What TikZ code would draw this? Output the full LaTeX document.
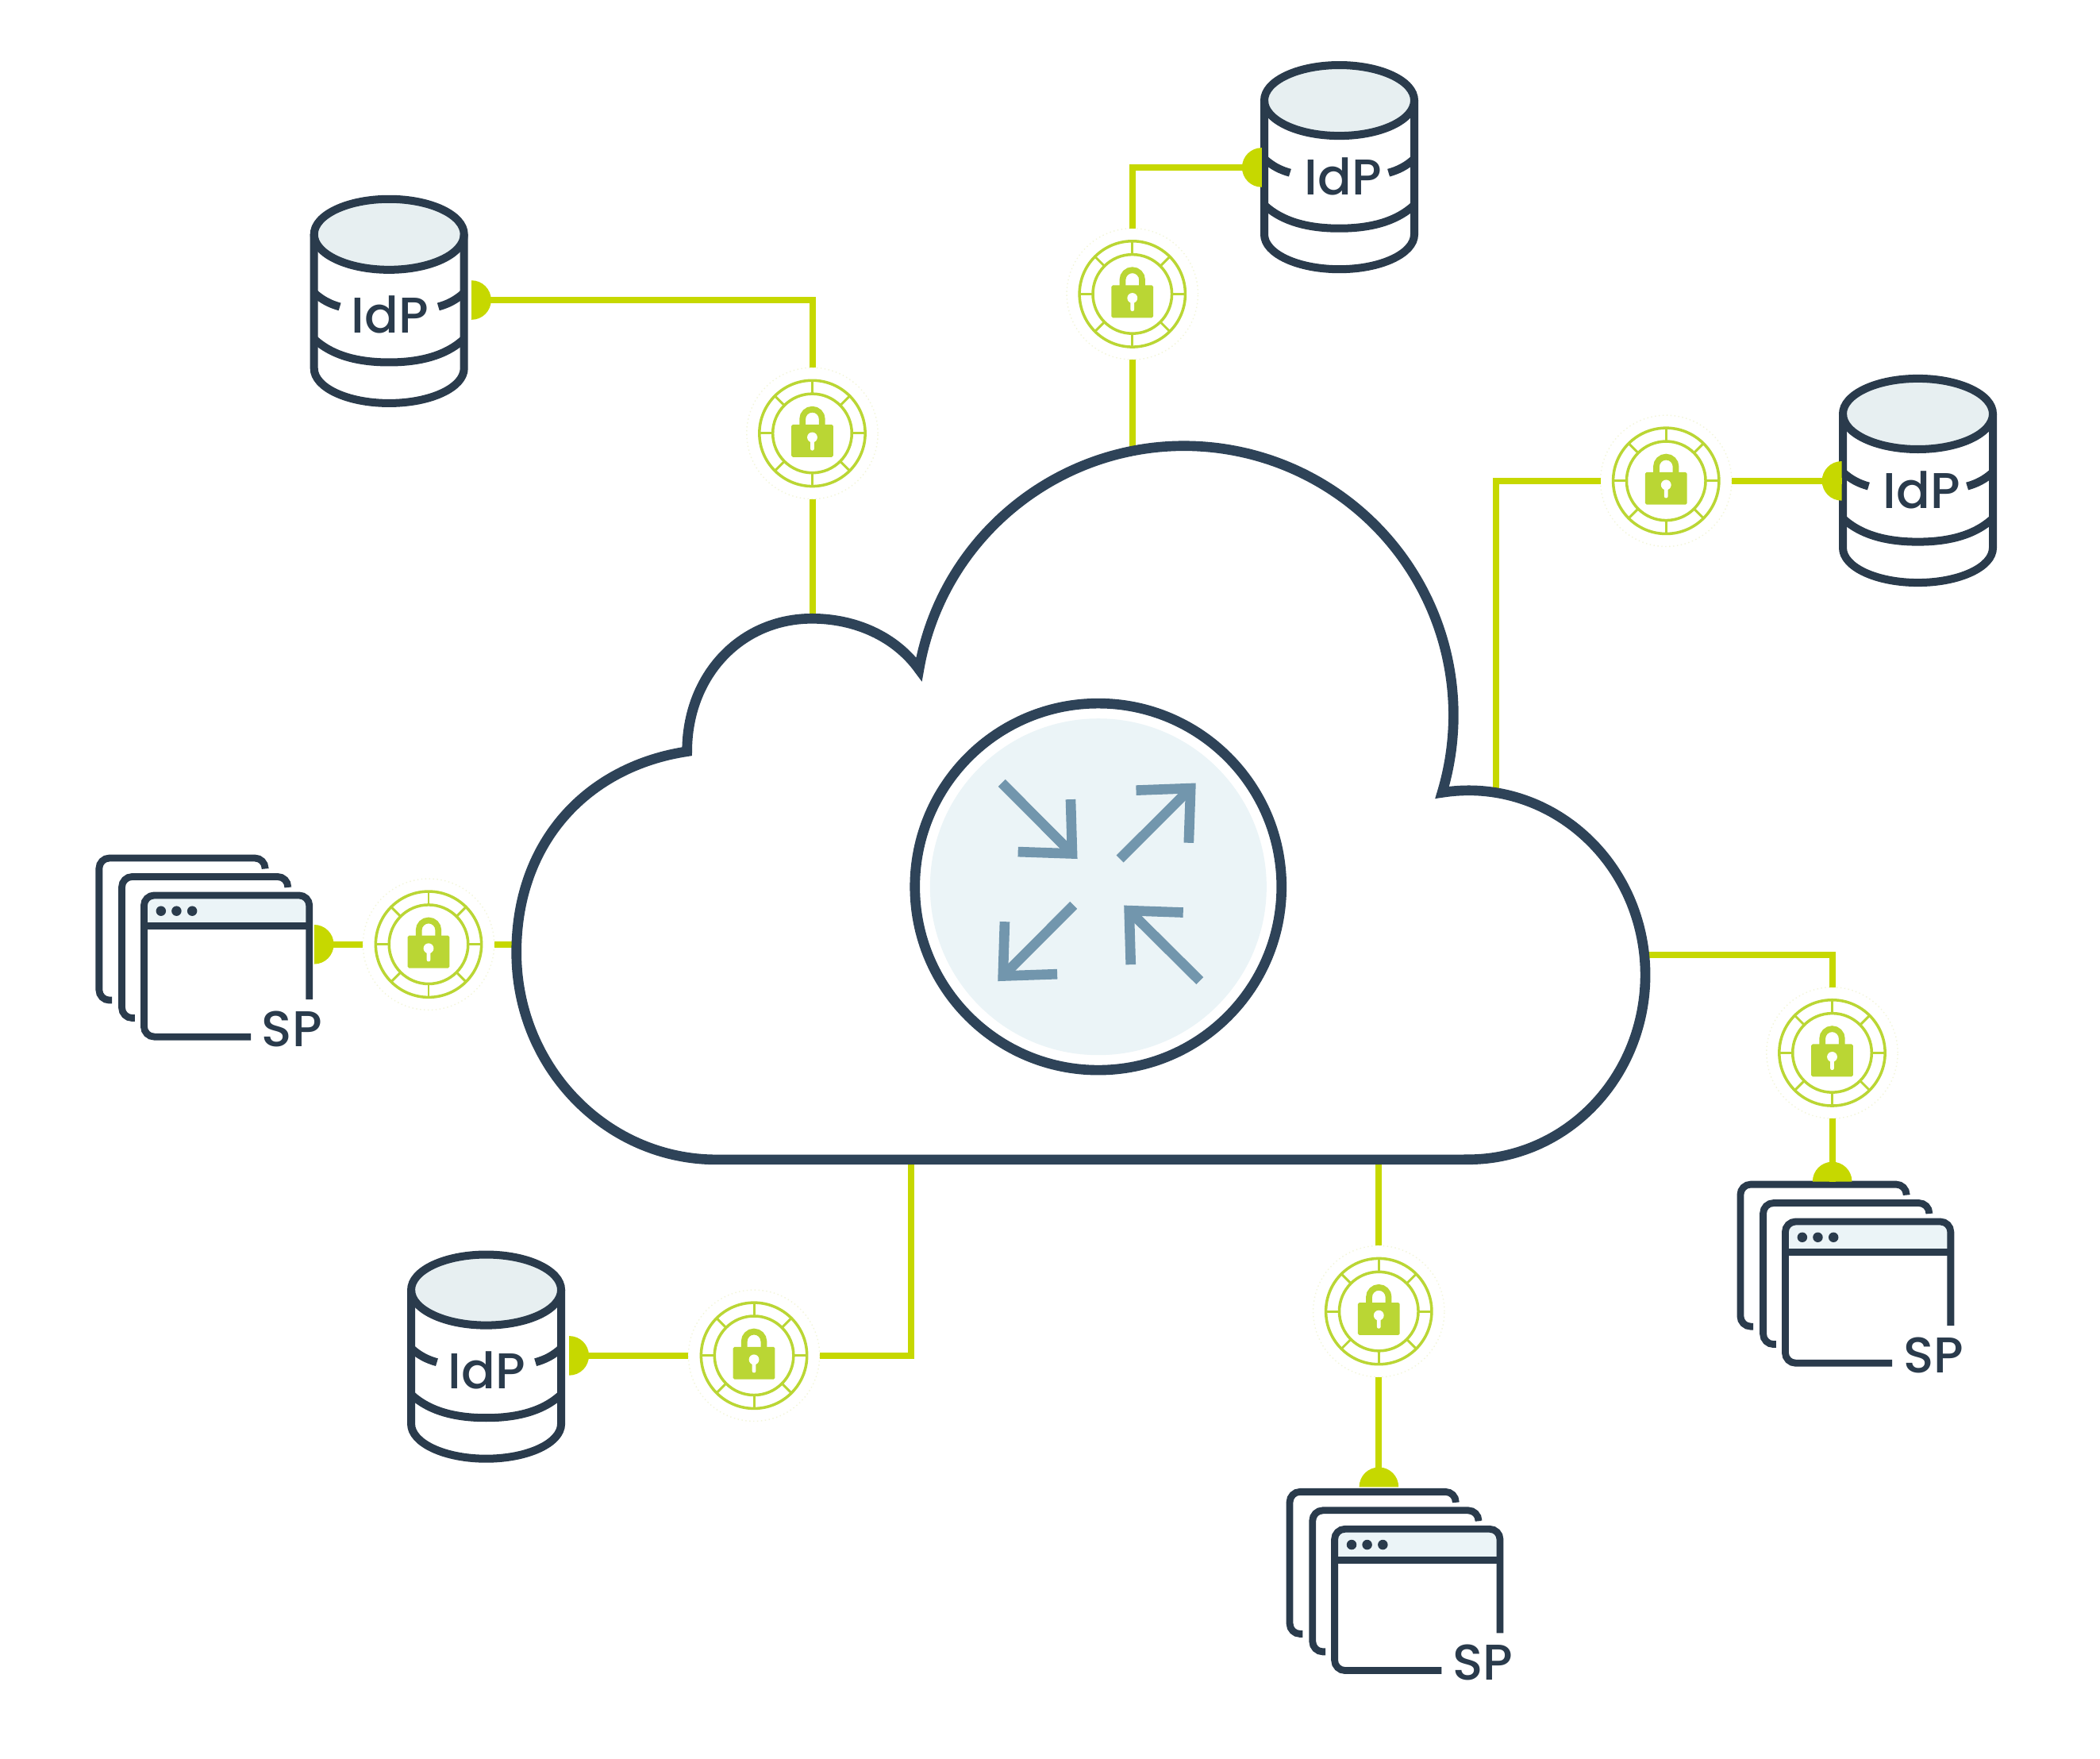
\documentclass[tikz,border=0pt]{standalone}
\usepackage{fontspec}
\setmainfont{Poppins Medium}
\usetikzlibrary{positioning}
\definecolor{navy}{HTML}{2A3B4C}
\definecolor{cloudnavy}{HTML}{2E4358}
\definecolor{linklime}{HTML}{C6D800}
\definecolor{locklime}{HTML}{BAD634}
\definecolor{halolime}{HTML}{F3F6DA}
\definecolor{paleblue}{HTML}{EBF4F7}
\definecolor{palegrey}{HTML}{E7EFF1}
\definecolor{arrowblue}{HTML}{7296AD}

\tikzset{
    iconline/.style={draw=navy, line width=2.5pt},
    dbline/.style={draw=navy, line width=2.85pt},
    icontext/.style={text=navy, font=\fontsize{18}{18}\selectfont, inner sep=0pt},
    pics/lockdial/.style={code={
        \node[circle, draw=halolime, densely dotted, fill=white, line width=0.4pt, minimum size=1.654cm, inner sep=0pt, outer sep=0pt] (-halo) at (0,0) {};
        \draw[locklime, line width=1pt] (0,0) circle[radius=0.395];
        \draw[locklime, line width=1pt] (0,0) circle[radius=0.295];
        \foreach \a in {0,45,...,315} {
            \draw[locklime, line width=0.85pt] (\a:0.295) -- (\a:0.395);
        }
        \draw[locklime, line width=2.2pt] (-0.073,-0.06) -- (-0.073,-0.106) arc[start angle=180, end angle=360, radius=0.073] -- (0.073,-0.06);
        \fill[locklime, rounded corners=0.5pt] (-0.156,-0.065) rectangle (0.156,0.177);
        \fill[white] (0,0.03) circle[radius=0.038];
        \fill[white, rounded corners=0.6pt] (-0.014,0.03) rectangle (0.014,0.128);
    }},
    pics/idpdb/.style 2 args={code={
        \draw[dbline, fill=palegrey] (0,0) ellipse[x radius=0.56, y radius=0.264];
        \draw[dbline] (-0.56,0) -- (-0.56,1.0) arc[start angle=180, end angle=0, x radius=0.56, y radius=0.26] -- (0.56,0);
        \draw[dbline] (-0.56,0.78) .. controls (-0.42,0.91) and (-0.22,0.955) .. (0,0.955) .. controls (0.22,0.955) and (0.42,0.91) .. (0.56,0.78);
        \draw[dbline] (-0.56,0.435) .. controls (-0.50,0.49) and (-0.44,0.52) .. (-0.368,0.54);
        \draw[dbline] (0.56,0.435) .. controls (0.50,0.49) and (0.44,0.52) .. (0.368,0.54);
        \node[icontext] (-label) at (#1,#2) {IdP};
    }},
    pics/spstack/.style={code={
        \draw[iconline, rounded corners=0.13cm] (-0.239,0.783) -- (-0.335,0.783) -- (-0.335,-0.278) -- (0.905,-0.278) -- (0.905,-0.207);
        \draw[iconline, rounded corners=0.13cm] (-0.068,0.916) -- (-0.165,0.916) -- (-0.165,-0.139) -- (1.075,-0.139) -- (1.075,-0.064);
        \fill[paleblue, rounded corners=0.13cm] (0,0.23) -- (0,0) -- (1.235,0) -- (1.235,0.23) -- cycle;
        \draw[iconline, rounded corners=0.13cm] (1.235,0.777) -- (1.235,0) -- (0,0) -- (0,1.056) -- (0.798,1.056);
        \draw[iconline] (0,0.23) -- (1.235,0.23);
        \foreach \dotx in {0.127,0.243,0.36} {
            \fill[navy] (\dotx,0.117) circle[radius=0.037];
        }
        \node[icontext] (-label) at (1.105,0.996) {SP};
    }},
    pics/halfdot/.style={code={
        \fill[linklime] (0,-0.147) arc[start angle=-90, end angle=90, radius=0.147] -- cycle;
    }},
}

\begin{document}
\begin{tikzpicture}[scale=1.6875, yscale=-1,
        every pic/.style={scale=1.6875, yscale=-1},
        link/.style={linklime, line width=2.3pt},
        hubring/.style={circle, draw=cloudnavy, line width=3.6pt, fill=white, minimum size=4.62cm, inner sep=0pt},
        hubcore/.style={circle, fill=paleblue, minimum size=4.24cm, inner sep=0pt},
        hubarrow/.style={arrowblue, line width=3.6pt, line join=miter},
    ]
        \useasboundingbox (0,0) rectangle (15.68,13.126);

        % Servers and applications
        \pic (idp1) at (2.905,1.75) {idpdb={0.005}{0.60}};
        \pic (idp2) at (10.00,0.75) {idpdb={0.03}{0.57}};
        \pic (idp3) at (14.32,3.09) {idpdb={0.03}{0.57}};
        \pic (idp4) at (3.63,9.63) {idpdb={0.005}{0.60}};
        \pic (sp1) at (1.075,6.684) {spstack};
        \pic (sp2) at (13.33,9.12) {spstack};
        \pic (sp3) at (9.965,11.415) {spstack};

        % Locks on the links
        \pic (lock1) at (6.065,3.235) {lockdial};
        \pic (lock2) at (8.455,2.195) {lockdial};
        \pic (lock3) at (12.44,3.59) {lockdial};
        \pic (lock4) at (3.20,7.05) {lockdial};
        \pic (lock5) at (13.68,7.86) {lockdial};
        \pic (lock6) at (10.295,9.79) {lockdial};
        \pic (lock7) at (5.63,10.12) {lockdial};

        % Link ends
        \coordinate (port1) at (3.52,2.24);
        \coordinate (port2) at (9.42,1.25);
        \coordinate (port3) at (13.75,3.59);
        \coordinate (port4) at (2.345,7.05);
        \coordinate (port5) at (13.68,8.82);
        \coordinate (port6) at (10.295,11.10);
        \coordinate (port7) at (4.25,10.12);
        \coordinate (edge1) at (6.065,4.62);
        \coordinate (edge2) at (8.455,3.35);
        \coordinate (edge3) at (11.17,5.93);
        \coordinate (edge4) at (3.86,7.05);
        \coordinate (edge5) at (12.27,7.13);
        \coordinate (edge6) at (10.295,8.65);
        \coordinate (edge7) at (6.80,8.65);

        \pic at (port1) {halfdot};
        \pic[rotate=180] at (port2) {halfdot};
        \pic[rotate=180] at (port3) {halfdot};
        \pic at (port4) {halfdot};
        \pic[rotate=90] at (port5) {halfdot};
        \pic[rotate=90] at (port6) {halfdot};
        \pic at (port7) {halfdot};

        % Links
        \draw[link] (port1) -| (lock1-halo.north);
        \draw[link] (lock1-halo.south) -- (edge1);
        \draw[link] (port2) -| (lock2-halo.north);
        \draw[link] (lock2-halo.south) -- (edge2);
        \draw[link] (port3) -- (lock3-halo.east);
        \draw[link] (lock3-halo.west) -| (edge3);
        \draw[link] (port4) -- (lock4-halo.west);
        \draw[link] (lock4-halo.east) -- (edge4);
        \draw[link] (edge5) -| (lock5-halo.north);
        \draw[link] (lock5-halo.south) -- (port5);
        \draw[link] (edge6) -- (lock6-halo.north);
        \draw[link] (lock6-halo.south) -- (port6);
        \draw[link] (edge7) |- (lock7-halo.east);
        \draw[link] (lock7-halo.west) -- (port7);

        % Cloud
        \draw[draw=cloudnavy, fill=white, line width=3.6pt, line join=miter]
            (10.965,8.657) -- (5.35,8.657)
            arc[start angle=90, end angle=180, x radius=1.494, y radius=1.547]
            .. controls (3.856,6.27) and (4.40,5.72) .. (5.13,5.61)
            .. controls (5.13,5.04) and (5.533,4.618) .. (6.062,4.618)
            .. controls (6.384,4.618) and (6.684,4.75) .. (6.862,4.997)
            arc[start angle=189.8, end angle=376.7, radius=2.01]
            arc[start angle=261.4, end angle=450, x radius=1.32, y radius=1.3775] -- cycle;

        % Hub in the cloud
        \node[hubring] (hub) at (8.20,6.62) {};
        \node[hubcore] (hubfill) at (hub) {};
        \draw[hubarrow] (7.48,5.845) -- (8.006,6.373);
        \draw[hubarrow] (7.601,6.359) -- (8.006,6.373) -- (7.994,5.968);
        \draw[hubarrow] (8.362,6.412) -- (8.89,5.885);
        \draw[hubarrow] (8.483,5.90) -- (8.89,5.885) -- (8.876,6.292);
        \draw[hubarrow] (8.016,6.758) -- (7.489,7.286);
        \draw[hubarrow] (7.894,7.272) -- (7.489,7.286) -- (7.502,6.881);
        \draw[hubarrow] (8.959,7.322) -- (8.431,6.798);
        \draw[hubarrow] (8.834,6.812) -- (8.431,6.798) -- (8.443,7.201);
    \end{tikzpicture}
\end{document}
